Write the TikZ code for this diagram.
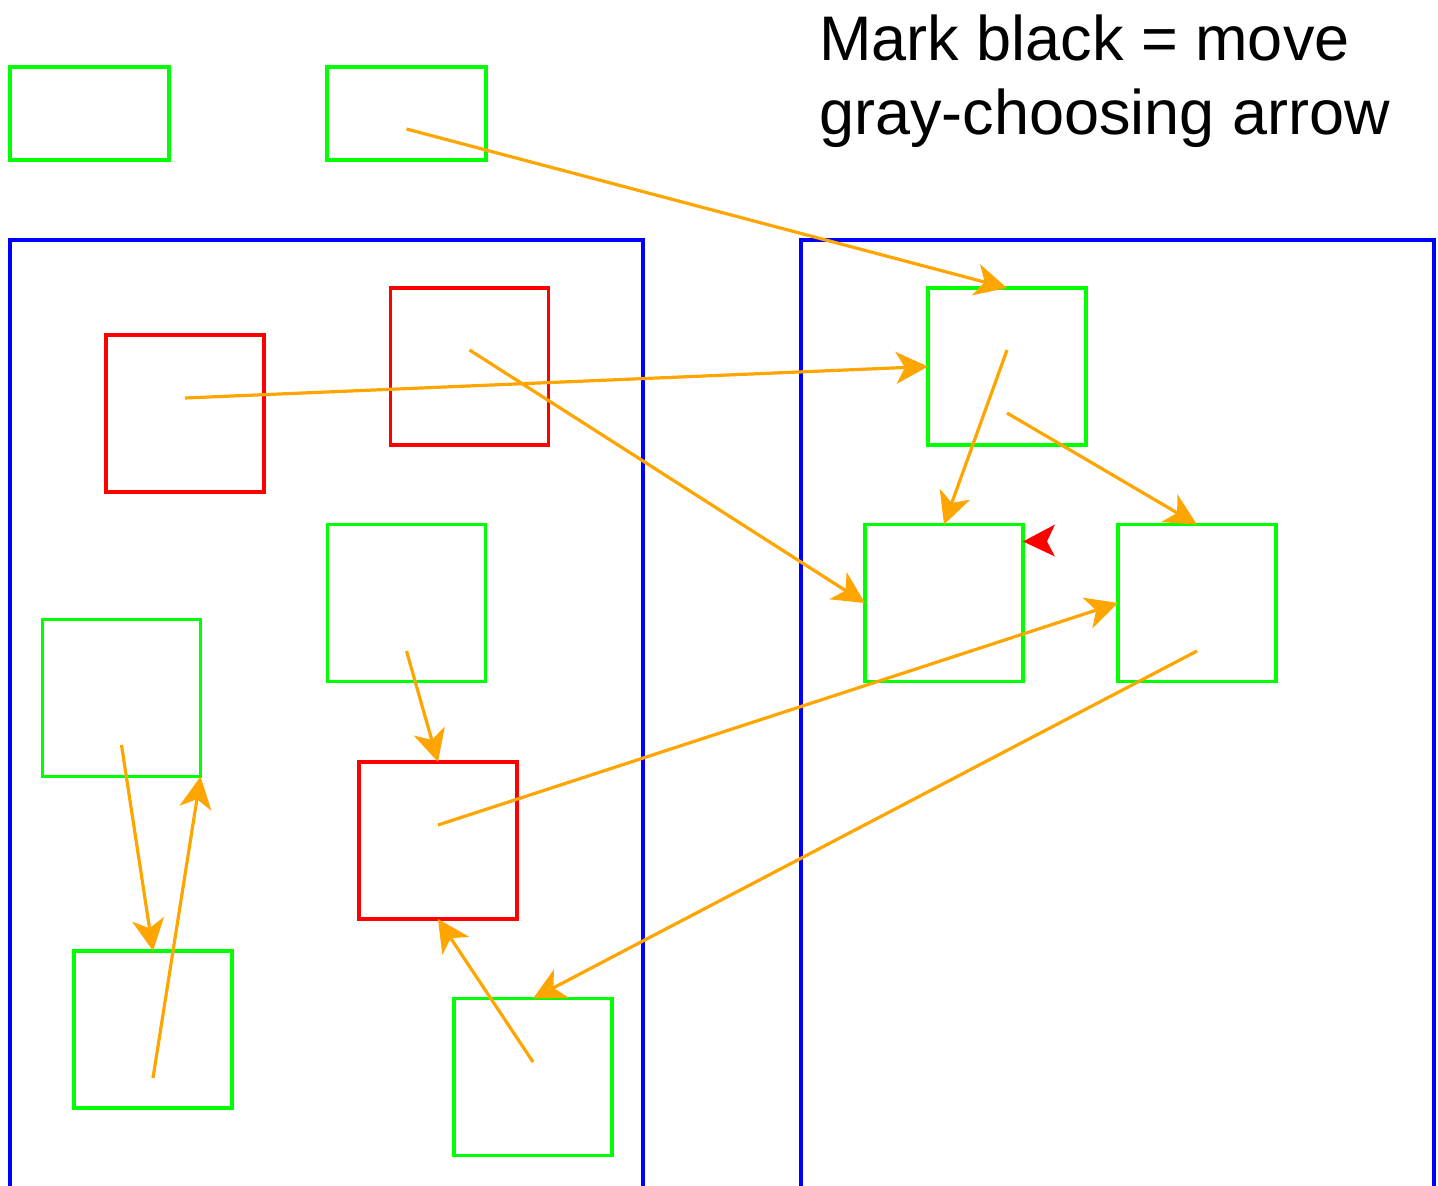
\documentclass[tikz,border=0pt]{standalone}
\usepackage{fontspec}
\setmainfont{Liberation Sans}
\usetikzlibrary{arrows.meta,calc}
\definecolor{gbox}{RGB}{0,255,0}
\definecolor{rbox}{RGB}{255,0,0}
\definecolor{bbox}{RGB}{0,0,255}
\definecolor{oarr}{RGB}{255,165,0}
\tikzset{
  greenbox/.style={draw=gbox, line width=3.2pt, minimum width=158pt, minimum height=157pt, inner sep=0pt, outer sep=0pt},
  smallbox/.style={draw=gbox, line width=3.2pt, minimum width=159pt, minimum height=93pt, inner sep=0pt, outer sep=0pt},
  redbox/.style={draw=rbox, line width=3.2pt, minimum width=158pt, minimum height=157pt, inner sep=0pt, outer sep=0pt},
  container/.style={draw=bbox, line width=3.2pt},
  move/.style={draw=oarr, line width=3.2pt, -{Stealth[length=32pt, width=32pt, inset=9pt]}},
}
\begin{document}
\begin{tikzpicture}[x=1pt, y=-1pt]
\useasboundingbox (0,0) rectangle (1438,1186);
\begin{scope}
\clip (0,0) rectangle (1438,1186);
% containers
\draw[container] (10,1200) -- (10,240) -- (643,240) -- (643,1200);
\draw[container] (801,1200) -- (801,240) -- (1434,240) -- (1434,1200);
\end{scope}
% top boxes
\node[smallbox] (t1) at (89.5,113.5) {};
\node[smallbox] (t2) at (406.5,113.5) {};
% left container boxes
\node[redbox] (r1) at (185,413.5) {};
\node[redbox] (r2) at (469.5,366.5) {};
\node[redbox] (r3) at (438,840.5) {};
\node[greenbox] (gA) at (406.5,603) {};
\node[greenbox] (gB) at (121.5,698) {};
\node[greenbox] (gC) at (153,1029.5) {};
\node[greenbox] (gD) at (533,1077) {};
% right container boxes
\node[greenbox] (R1) at (1007,366.5) {};
\node[greenbox] (R2) at (944,603) {};
\node[greenbox] (R3) at (1197,603) {};
% caption
\node[anchor=base west, align=left, inner sep=0pt, font=\fontsize{63}{74}\selectfont] (cap) at (819,134) {Mark black = move\\gray-choosing arrow};
% arrow start points
\coordinate (s1) at ($(t2.center)+(0,15.5)$);
\coordinate (s2) at ($(r1.center)+(0,-15.5)$);
\coordinate (s3) at ($(r2.center)+(0,-16.5)$);
\coordinate (s4) at ($(R1.center)+(0,-16.5)$);
\coordinate (s5) at ($(R1.center)+(0,46.5)$);
\coordinate (s6) at ($(r3.center)+(0,-15.5)$);
\coordinate (s7) at ($(R3.center)+(0,48)$);
\coordinate (s8) at ($(gA.center)+(0,48)$);
\coordinate (s9) at ($(gB.center)+(0,47)$);
\coordinate (s10) at ($(gC.center)+(0,48.5)$);
\coordinate (s11) at ($(gD.center)+(0,-15)$);
% arrows
\draw[move] (s1) -- (R1.north);
\draw[move] (s2) -- (R1.west);
\draw[move] (s3) -- (R2.west);
\draw[move] (s4) -- (R2.north);
\draw[move] (s5) -- (R3.north);
\draw[move] (s6) -- (R3.west);
\draw[move] (s7) -- (gD.north);
\draw[move] (s8) -- (r3.north);
\draw[move] (s9) -- (gC.north);
\draw[move] (s10) -- (gB.south east);
\draw[move] (s11) -- (r3.south);
% red marker arrowhead
\coordinate (mk) at ($(R2.north east)+(0,17)$);
\fill[rbox] (mk) -- ++(32,-17) -- ++(-8,17) -- ++(8,15) -- cycle;
\end{tikzpicture}
\end{document}
